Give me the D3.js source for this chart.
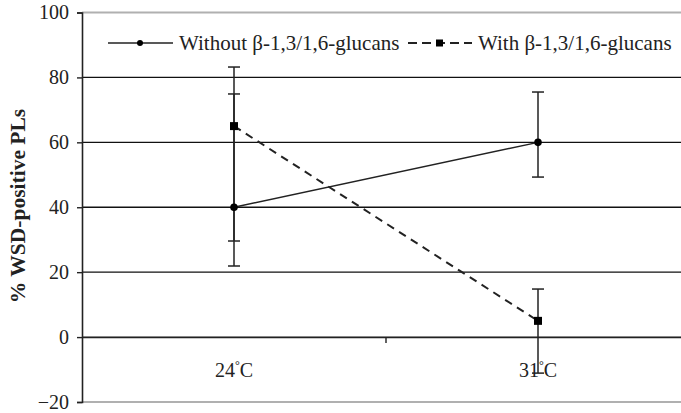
<!DOCTYPE html>
<html><head><meta charset="utf-8">
<script src="https://cdnjs.cloudflare.com/ajax/libs/d3/7.8.5/d3.min.js"></script>
<style>body{margin:0;background:#fff}svg{display:block}</style>
</head><body>
<svg id="c" width="681" height="413"></svg>
<script>
const categories = ["24", "31"];
const seriesNames = ["Without β-1,3/1,6-glucans", "With β-1,3/1,6-glucans"];
const withoutValues = [40, 60];
const withValues = [65, 5];
const withoutLow = [29.6, 49.3];
const withoutHigh = [83.2, 75.5];
const withLow = [21.9, -11.1];
const withHigh = [74.9, 14.8];
const yTicks = [-20, 0, 20, 40, 60, 80, 100];
const yTitle = "% WSD-positive PLs";

const svg = d3.select("#c");
const font = "'Liberation Serif', 'Times New Roman', serif";
const pLeft = 82, pRight = 690, pTop = 12.5, pBottom = 402;
const x = d3.scaleBand().domain(categories).range([pLeft, pRight]);
const y = d3.scaleLinear().domain([-20, 100]).range([pBottom, pTop]);
const cx = c => x(c) + x.bandwidth() / 2;

// gridlines
svg.append("g").selectAll("line").data(yTicks).join("line")
  .attr("x1", pLeft).attr("x2", 681)
  .attr("y1", d => y(d)).attr("y2", d => y(d))
  .attr("stroke", d => (d === 100 || d === -20) ? "#b0b0b0" : "#111")
  .attr("stroke-width", d => (d === 100 || d === -20) ? 2 : 1.4);

// y axis
const ya = svg.append("g").attr("transform", `translate(${pLeft},0)`)
  .call(d3.axisLeft(y).tickValues(yTicks).tickSize(5).tickPadding(8));
ya.select(".domain").attr("stroke", "#222").attr("stroke-width", 1.6);
ya.selectAll(".tick line").attr("stroke", "#222").attr("stroke-width", 1.4);
ya.selectAll("text").attr("font-family", font).attr("font-size", 20).attr("fill", "#222");

// x axis at 0
const xa = svg.append("g").attr("transform", `translate(0,${y(0)})`)
  .call(d3.axisBottom(x).tickSize(0).tickFormat(""));
xa.select(".domain").attr("stroke", "#222").attr("stroke-width", 1.4);
xa.selectAll(".tick").remove();
svg.append("g").selectAll("line").data(categories.slice(1)).join("line")
  .attr("x1", d => x(d)).attr("x2", d => x(d))
  .attr("y1", y(0)).attr("y2", y(0) + 6).attr("stroke", "#222").attr("stroke-width", 1.4);

// category labels
const cl = svg.append("g").selectAll("text").data(categories).join("text")
  .attr("x", d => cx(d)).attr("y", 377).attr("text-anchor", "middle")
  .attr("font-family", font).attr("font-size", 20).attr("fill", "#222");
cl.append("tspan").text(d => d);
cl.append("tspan").attr("font-size", 12).attr("dy", -8).text("°");
cl.append("tspan").attr("dy", 8).text("C");

// y title
svg.append("text").attr("transform", `translate(25,206) rotate(-90)`)
  .attr("text-anchor", "middle").attr("font-family", font).attr("font-size", 21.5)
  .attr("font-weight", "bold").attr("fill", "#222").text(yTitle);

// error bars
function errBars(lo, hi) {
  const g = svg.append("g").attr("stroke", "#222").attr("stroke-width", 1.5);
  categories.forEach((c, i) => {
    g.append("line").attr("x1", cx(c)).attr("x2", cx(c)).attr("y1", y(lo[i])).attr("y2", y(hi[i]));
    [lo[i], hi[i]].forEach(v => g.append("line").attr("x1", cx(c) - 6).attr("x2", cx(c) + 6)
      .attr("y1", y(v)).attr("y2", y(v)));
  });
}
errBars(withoutLow, withoutHigh);
errBars(withLow, withHigh);

// lines
const line = d3.line().x((d, i) => cx(categories[i])).y(d => y(d));
svg.append("path").datum(withoutValues).attr("d", line).attr("fill", "none")
  .attr("stroke", "#222").attr("stroke-width", 1.4);
svg.append("path").datum(withValues).attr("d", line).attr("fill", "none")
  .attr("stroke", "#222").attr("stroke-width", 2).attr("stroke-dasharray", "8,6");

// markers
svg.append("g").selectAll("circle").data(withoutValues).join("circle")
  .attr("cx", (d, i) => cx(categories[i])).attr("cy", d => y(d)).attr("r", 3.8).attr("fill", "#000");
svg.append("g").selectAll("rect").data(withValues).join("rect")
  .attr("x", (d, i) => cx(categories[i]) - 4).attr("y", d => y(d) - 4)
  .attr("width", 8).attr("height", 8).attr("fill", "#000");

// legend
const lg = svg.append("g");
const ly = 43;
lg.append("rect").attr("x", 100).attr("y", 30).attr("width", 580).attr("height", 27).attr("fill", "#fff");
lg.append("line").attr("x1", 108).attr("x2", 173).attr("y1", ly).attr("y2", ly).attr("stroke", "#222").attr("stroke-width", 1.4);
lg.append("circle").attr("cx", 140).attr("cy", ly).attr("r", 3).attr("fill", "#000");
lg.append("text").attr("x", 179).attr("y", ly + 7).attr("font-family", font).attr("font-size", 21)
  .attr("fill", "#222").text(seriesNames[0]);
lg.append("line").attr("x1", 408).attr("x2", 472).attr("y1", ly).attr("y2", ly).attr("stroke", "#222")
  .attr("stroke-width", 1.8).attr("stroke-dasharray", "9,5");
lg.append("rect").attr("x", 436).attr("y", ly - 3.5).attr("width", 7).attr("height", 7).attr("fill", "#000");
lg.append("text").attr("x", 478).attr("y", ly + 7).attr("font-family", font).attr("font-size", 21)
  .attr("fill", "#222").text(seriesNames[1]);
</script>
</body></html>
